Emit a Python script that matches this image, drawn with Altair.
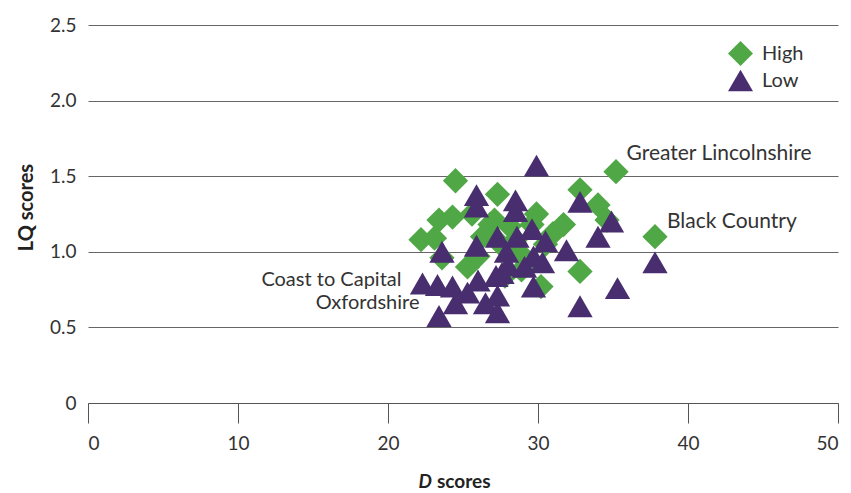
import altair as alt
import pandas as pd

# High LQ points (D score, LQ score)
high_d = [24.5, 22.2, 23.4, 24.3, 23.1, 23.6, 25.3, 26.0, 27.3, 26.8, 27.1, 28.1,
          27.8, 29.9, 31.0, 28.7, 30.2, 31.7, 32.8, 34.0, 34.6, 35.2, 37.8, 32.8,
          29.3, 28.5, 27.5, 26.3, 29.6, 30.5, 25.6, 28.9]
high_lq = [1.47, 1.08, 1.21, 1.23, 1.09, 0.96, 0.90, 0.97, 1.38, 1.18, 1.21, 1.17,
           0.84, 1.25, 1.12, 1.00, 0.77, 1.18, 1.41, 1.31, 1.21, 1.53, 1.10, 0.87,
           0.92, 1.08, 1.05, 1.10, 1.18, 1.05, 1.25, 0.88]

# Low LQ points (D score, LQ score)
low_d = [29.9, 25.9, 25.9, 28.5, 28.5, 32.8, 34.9, 34.0, 37.8, 35.3, 32.8, 31.9,
         23.6, 25.9, 27.3, 28.6, 29.6, 30.5, 27.9, 29.7, 30.3, 29.1, 28.0, 22.3,
         23.3, 24.3, 25.3, 26.0, 24.5, 26.5, 27.3, 27.3, 29.7, 23.4, 27.6, 27.2]
low_lq = [1.57, 1.375, 1.30, 1.34, 1.27, 1.33, 1.20, 1.10, 0.93, 0.76, 0.64, 1.01,
          1.00, 1.04, 1.10, 1.10, 1.15, 1.07, 1.00, 0.97, 0.93, 0.90, 0.91, 0.79,
          0.78, 0.77, 0.73, 0.81, 0.66, 0.66, 0.71, 0.60, 0.77, 0.575, 0.86, 0.84]

groups = ["High", "Low"]
label_names = ["Greater Lincolnshire", "Black Country", "Coast to Capital", "Oxfordshire"]
label_d = [35.9, 38.6, 20.9, 22.1]
label_lq = [1.65, 1.20, 0.815, 0.66]
label_align = ["left", "left", "right", "right"]

y_ticks = [0, 0.5, 1.0, 1.5, 2.0, 2.5]
x_ticks = [0, 10, 20, 30, 40, 50]

FONT = "Lato"
GREEN = "#50a746"
PURPLE = "#482e6e"
TEXT = "#333333"

pts = pd.DataFrame({"d": high_d, "lq": high_lq, "group": "High"})
pts = pd.concat(
    [pts, pd.DataFrame({"d": low_d, "lq": low_lq, "group": "Low"})],
    ignore_index=True,
)
pts["order"] = range(len(pts))

labels = pd.DataFrame({"name": label_names, "d": label_d, "lq": label_lq, "align": label_align})

xscale = alt.Scale(domain=[0, 50], nice=False, zero=True)
yscale = alt.Scale(domain=[0, 2.5], nice=False)

x_axis = alt.Axis(values=x_ticks, title=None)
y_axis = alt.Axis(values=y_ticks, title="LQ scores",
                  labelExpr="datum.value == 0 ? '0' : format(datum.value, '.1f')")

legend = alt.Legend(title=None, orient="none", legendX=640, legendY=16,
                    symbolSize=625, labelFont=FONT, labelFontSize=20,
                    labelColor=TEXT, rowPadding=2, labelOffset=9,
                    padding=0, symbolStrokeWidth=0)

points = alt.Chart(pts).mark_point(filled=True, opacity=1, strokeWidth=0).encode(
    x=alt.X("d:Q", scale=xscale, axis=x_axis),
    y=alt.Y("lq:Q", scale=yscale, axis=y_axis),
    color=alt.Color("group:N", scale=alt.Scale(domain=groups, range=[GREEN, PURPLE]),
                    legend=legend),
    shape=alt.Shape("group:N", scale=alt.Scale(domain=groups, range=["diamond", "triangle-up"]),
                    legend=legend),
    size=alt.value(640),
    order="order:Q",
)

text_left = alt.Chart(labels[labels["align"] == "left"]).mark_text(
    align="left", baseline="middle", font=FONT, fontSize=21, color=TEXT
).encode(x=alt.X("d:Q", scale=xscale, axis=x_axis),
         y=alt.Y("lq:Q", scale=yscale, axis=y_axis), text="name:N")

text_right = alt.Chart(labels[labels["align"] == "right"]).mark_text(
    align="right", baseline="middle", font=FONT, fontSize=20, color=TEXT
).encode(x=alt.X("d:Q", scale=xscale, axis=x_axis),
         y=alt.Y("lq:Q", scale=yscale, axis=y_axis), text="name:N")

title_d = alt.Chart(pd.DataFrame({"t": ["D"]})).mark_text(
    align="right", baseline="middle", font=FONT, fontSize=19, fontWeight="bold",
    fontStyle="italic", color="#222222"
).encode(x=alt.value(344), y=alt.value(457), text="t:N")

title_s = alt.Chart(pd.DataFrame({"t": ["scores"]})).mark_text(
    align="left", baseline="middle", font=FONT, fontSize=19, fontWeight="bold",
    color="#222222"
).encode(x=alt.value(349), y=alt.value(457), text="t:N")

chart = alt.layer(points, text_left, text_right, title_d, title_s).properties(
    width=750, height=378,
    background="white",
    autosize=alt.AutoSizeParams(type="none"),
    padding={"left": 80, "top": 17, "right": 5, "bottom": 88},
).configure_view(stroke=None).configure_axisX(
    grid=False, domain=True, domainColor="#555555", domainWidth=1,
    ticks=True, tickSize=20, tickColor="#555555", tickWidth=1,
    labelFont=FONT, labelFontSize=19, labelColor=TEXT, labelPadding=11,
).configure_axisY(
    grid=True, gridColor="#666666", gridWidth=1, domain=False, ticks=False,
    labelFont=FONT, labelFontSize=19, labelColor=TEXT, labelPadding=12,
    titleFont=FONT, titleFontSize=20, titleFontWeight="bold", titleColor="#222222",
    titleX=-62, titleY=182, titleAngle=-90, titleAlign="center", titleBaseline="middle",
)

chart.save("out.html", embed_options={"renderer": "svg", "actions": False})
